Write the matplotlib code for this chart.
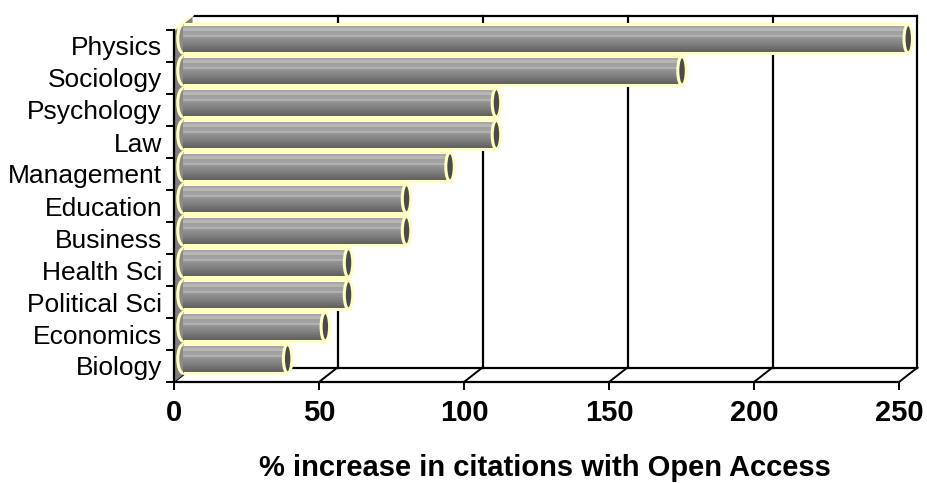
import matplotlib
matplotlib.use("Agg")
import matplotlib.pyplot as plt
import numpy as np
from matplotlib.patches import Ellipse, Polygon

plt.rcParams['font.family'] = ['Liberation Sans', 'DejaVu Sans']

# ---- data (top to bottom as shown) ----
categories = ["Physics", "Sociology", "Psychology", "Law", "Management",
              "Education", "Business", "Health Sci", "Political Sci",
              "Economics", "Biology"]
values = [250, 172, 108, 108, 92, 77, 77, 57, 57, 49, 36]
xticks = [0, 50, 100, 150, 200, 250]
xlabel = "% increase in citations with Open Access"

W, H = 927, 483
fig = plt.figure(figsize=(W / 100, H / 100), dpi=100)
# front plane of the 3-D box
L, R, T, B = 174, 899, 30, 382
ax = fig.add_axes([L / W, 1 - B / H, (R - L) / W, (B - T) / H])
n = len(categories)
ypos = np.arange(n)[::-1]           # Physics at top
vals = np.array(values, dtype=float)
xmax = xticks[-1]
ax.set_xlim(0, xmax)
ax.set_ylim(-0.5, n - 0.5)

pxx = (R - L) / xmax                 # pixels per x unit
pxy = (B - T) / n                    # pixels per y unit
DX = 18.5 / pxx                      # depth offset (data units)
DY = 14.5 / pxy

ylo, yhi = -0.5, n - 0.5
black = '#000000'
edge_y = '#ffffc4'

# ---- back wall ----
ax.plot([DX, xmax + DX], [yhi + DY, yhi + DY], color=black, lw=1.6, zorder=1, clip_on=False)
for t in xticks[1:]:
    ax.plot([t + DX, t + DX], [ylo + DY, yhi + DY], color=black, lw=1.6, zorder=1, clip_on=False)
# floor
ax.plot([DX, xmax + DX], [ylo + DY, ylo + DY], color=black, lw=1.6, zorder=1, clip_on=False)
for t in xticks:
    ax.plot([t, t + DX], [ylo, ylo + DY], color=black, lw=1.4, zorder=1, clip_on=False)
# side wall
ax.add_patch(Polygon([(0, ylo), (0, yhi), (DX, yhi + DY), (DX, ylo + DY)],
                     closed=True, facecolor='#808080', edgecolor='none', zorder=1.5, clip_on=False))
ax.plot([0, DX], [yhi, yhi + DY], color=edge_y, lw=1.6, zorder=1.6, clip_on=False)

# ---- cylinders ----
h = 0.9
strip_cols = ['#999999', '#a6a6a6', '#b6b6b6', '#a0a0a0', '#a2a2a2', '#b0b0b0',
              '#959595', '#8c8c8c', '#868686', '#7f7f7f', '#777777', '#6e6e6e',
              '#666666', '#5c5c5c']
ns = len(strip_cols)
sh = h / ns
yc = ypos + DY / 2
x0 = DX / 2
ew = 8.5 / pxx
lw_out = 2.2
for i in range(n):
    ax.add_patch(Ellipse((x0, yc[i]), 11 / pxx, h, facecolor='#8a8a8a', edgecolor=edge_y,
                         lw=lw_out, zorder=2.5, clip_on=False))
for k, c in enumerate(strip_cols):
    off = h / 2 - (k + 0.5) * sh
    ax.barh(yc + off, vals, left=x0, height=sh * 1.02, color=c, edgecolor='none',
            zorder=3, clip_on=False)
ax.hlines(yc + h / 2, x0, vals + x0, color=edge_y, lw=lw_out, zorder=3.5, clip_on=False)
ax.hlines(yc - h / 2, x0, vals + x0, color=edge_y, lw=lw_out, zorder=3.5, clip_on=False)
for i in range(n):
    ax.add_patch(Ellipse((vals[i] + x0, yc[i]), ew, h, facecolor='#4a4a4a', edgecolor=edge_y,
                         lw=lw_out, zorder=4, clip_on=False))

# ---- axes / ticks ----
for s in ['top', 'right']:
    ax.spines[s].set_visible(False)
for s in ['left', 'bottom']:
    ax.spines[s].set_linewidth(1.6)
    ax.spines[s].set_zorder(5)
ax.set_xticks(xticks)
ax.set_xticklabels([str(t) for t in xticks], fontsize=21, fontweight='bold')
ax.tick_params(axis='x', direction='out', length=5.5, width=1.4, pad=7)
ax.set_yticks(np.arange(-0.5, n, 1.0))
ax.set_yticklabels([])
ax.tick_params(axis='y', which='major', direction='out', length=5.8, width=1.4)
ax.set_yticks(ypos, minor=True)
ax.set_yticklabels(categories, minor=True, fontsize=19)
ax.tick_params(axis='y', which='minor', length=0, pad=8.5)
ax.patch.set_visible(False)

fig.text(545 / W, 1 - 476 / H, xlabel, ha='center', va='baseline',
         fontsize=21, fontweight='bold')

fig.savefig('out.png', dpi=100, facecolor='white')
